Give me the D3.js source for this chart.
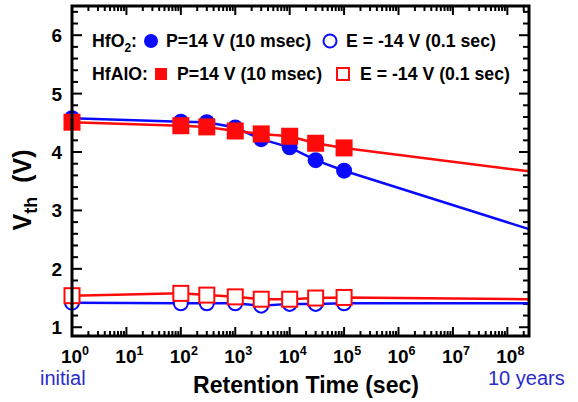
<!DOCTYPE html>
<html>
<head>
<meta charset="utf-8">
<script src="https://cdn.jsdelivr.net/npm/d3@7"></script>
<style>
  body { margin: 0; background: #fff; }
  text { font-family: Arial, "Liberation Sans", sans-serif; }
</style>
</head>
<body>
<div id="chart"></div>
<script>
// retention times (sec)
const times = [1, 100, 300, 1000, 3000, 10000, 30000, 100000];
// Vth after program / erase (V)
const hfo2Prog = [4.58, 4.52, 4.51, 4.42, 4.22, 4.08, 3.86, 3.68];
const hfo2Erase = [1.42, 1.41, 1.41, 1.41, 1.37, 1.40, 1.40, 1.41];
const hfaloProg = [4.51, 4.45, 4.43, 4.36, 4.31, 4.27, 4.15, 4.07];
const hfaloErase = [1.54, 1.58, 1.55, 1.52, 1.48, 1.48, 1.50, 1.51];
// extrapolated values at the right edge (10 years)
const tEnd = 2.5e8;
const endValues = { hfo2Prog: 2.68, hfo2Erase: 1.41, hfaloProg: 3.67, hfaloErase: 1.48 };
const yTicks = [1, 2, 3, 4, 5, 6];
const xDecades = [0, 1, 2, 3, 4, 5, 6, 7, 8];

const width = 578, height = 402;
const plotL = 72, plotR = 529, plotT = 6, plotB = 336;
const blue = '#0a0aff', red = '#ff0a0a';

const svg = d3.select('#chart').append('svg')
  .attr('width', width)
  .attr('height', height);

const x = d3.scaleLog().domain([1, tEnd]).range([plotL, plotR]);
const y = d3.scaleLinear().domain([0.85, 6.5]).range([plotB, plotT]);

// minor / major ticks
const xMinor = [];
xDecades.forEach(d => {
  for (let k = 2; k <= 9; k++) {
    const v = k * Math.pow(10, d);
    if (v < tEnd) xMinor.push(v);
  }
});
const xMajor = xDecades.map(d => Math.pow(10, d));
const yMinor = d3.range(1, 6.5, 0.2).filter(v => Math.abs(v - Math.round(v)) > 0.01);

const tickG = svg.append('g').attr('stroke', 'black').attr('stroke-width', 2);
xMajor.forEach(v => {
  tickG.append('line').attr('x1', x(v)).attr('x2', x(v)).attr('y1', plotB).attr('y2', plotB - 9);
  tickG.append('line').attr('x1', x(v)).attr('x2', x(v)).attr('y1', plotT).attr('y2', plotT + 9);
});
xMinor.forEach(v => {
  tickG.append('line').attr('x1', x(v)).attr('x2', x(v)).attr('y1', plotB).attr('y2', plotB - 5);
  tickG.append('line').attr('x1', x(v)).attr('x2', x(v)).attr('y1', plotT).attr('y2', plotT + 5);
});
yTicks.forEach(v => {
  tickG.append('line').attr('x1', plotL).attr('x2', plotL + 10).attr('y1', y(v)).attr('y2', y(v));
  tickG.append('line').attr('x1', plotR).attr('x2', plotR - 10).attr('y1', y(v)).attr('y2', y(v));
});
yMinor.forEach(v => {
  tickG.append('line').attr('x1', plotL).attr('x2', plotL + 6).attr('y1', y(v)).attr('y2', y(v));
  tickG.append('line').attr('x1', plotR).attr('x2', plotR - 6).attr('y1', y(v)).attr('y2', y(v));
});

// lines
const line = d3.line().x(d => x(d[0])).y(d => y(d[1]));
function series(vals, endV) {
  return times.map((t, i) => [t, vals[i]]).concat([[tEnd, endV]]);
}
svg.append('path').datum(series(hfo2Prog, endValues.hfo2Prog))
  .attr('d', line).attr('fill', 'none').attr('stroke', blue).attr('stroke-width', 2.5);
svg.append('path').datum(series(hfo2Erase, endValues.hfo2Erase))
  .attr('d', line).attr('fill', 'none').attr('stroke', blue).attr('stroke-width', 2.5);
svg.append('path').datum(series(hfaloProg, endValues.hfaloProg))
  .attr('d', line).attr('fill', 'none').attr('stroke', red).attr('stroke-width', 2.5);
svg.append('path').datum(series(hfaloErase, endValues.hfaloErase))
  .attr('d', line).attr('fill', 'none').attr('stroke', red).attr('stroke-width', 2.5);

// markers
svg.selectAll('.bp').data(times).enter().append('circle')
  .attr('cx', d => x(d)).attr('cy', (d, i) => y(hfo2Prog[i]))
  .attr('r', 8).attr('fill', blue);
svg.selectAll('.be').data(times).enter().append('circle')
  .attr('cx', d => x(d)).attr('cy', (d, i) => y(hfo2Erase[i]))
  .attr('r', 7).attr('fill', 'white').attr('stroke', blue).attr('stroke-width', 2);
const sq = 17;
svg.selectAll('.rp').data(times).enter().append('rect')
  .attr('x', d => x(d) - sq / 2).attr('y', (d, i) => y(hfaloProg[i]) - sq / 2)
  .attr('width', sq).attr('height', sq).attr('fill', red);
svg.selectAll('.re').data(times).enter().append('rect')
  .attr('x', d => x(d) - 7.5).attr('y', (d, i) => y(hfaloErase[i]) - 7.5)
  .attr('width', 15).attr('height', 15).attr('fill', 'white').attr('stroke', red).attr('stroke-width', 2);

// frame
svg.append('rect')
  .attr('x', plotL).attr('y', plotT).attr('width', plotR - plotL).attr('height', plotB - plotT)
  .attr('fill', 'none').attr('stroke', 'black').attr('stroke-width', 3);

// y tick labels
svg.selectAll('.ylab').data(yTicks).enter().append('text')
  .attr('x', 62).attr('y', d => y(d) + 7)
  .attr('text-anchor', 'end')
  .attr('font-size', 19).attr('font-weight', 'bold')
  .text(d => d);

// x tick labels 10^n
xDecades.forEach(d => {
  const t = svg.append('text')
    .attr('x', x(Math.pow(10, d)) + 3).attr('y', 363)
    .attr('text-anchor', 'middle')
    .attr('font-size', 19).attr('font-weight', 'bold');
  t.append('tspan').text('10');
  t.append('tspan').attr('dy', -8).attr('font-size', 12.5).text(d);
});

// axis titles
svg.append('text')
  .attr('x', 306).attr('y', 393)
  .attr('text-anchor', 'middle')
  .attr('font-size', 23).attr('font-weight', 'bold')
  .text('Retention Time (sec)');

const yt = svg.append('text')
  .attr('transform', 'translate(31,190) rotate(-90)')
  .attr('text-anchor', 'middle')
  .attr('font-size', 25).attr('font-weight', 'bold');
yt.append('tspan').text('V');
yt.append('tspan').attr('dy', 6).attr('font-size', 18).text('th');
yt.append('tspan').attr('dy', -6).text('\u00a0 (V)');

svg.append('text').attr('x', 40).attr('y', 385)
  .attr('font-size', 20).attr('fill', '#2a2acc').text('initial');
svg.append('text').attr('x', 488).attr('y', 385)
  .attr('font-size', 20).attr('fill', '#2a2acc').text('10 years');

// legend
const legG = svg.append('g').attr('font-size', 17.7).attr('font-weight', 'bold');
const l1 = legG.append('text').attr('x', 92).attr('y', 47);
l1.append('tspan').text('HfO');
l1.append('tspan').attr('dy', 5).attr('font-size', 12).text('2');
l1.append('tspan').attr('dy', -5).text(':');
legG.append('circle').attr('cx', 151).attr('cy', 41).attr('r', 7).attr('fill', blue);
legG.append('text').attr('x', 166).attr('y', 47).text('P=14 V (10 msec)');
legG.append('circle').attr('cx', 330).attr('cy', 41).attr('r', 6.5)
  .attr('fill', 'none').attr('stroke', blue).attr('stroke-width', 2);
legG.append('text').attr('x', 346).attr('y', 47).text('E = -14 V (0.1 sec)');

legG.append('text').attr('x', 92).attr('y', 80).text('HfAlO:');
legG.append('rect').attr('x', 155).attr('y', 68).attr('width', 12).attr('height', 12).attr('fill', red);
legG.append('text').attr('x', 177).attr('y', 80).text('P=14 V (10 msec)');
legG.append('rect').attr('x', 337).attr('y', 68).attr('width', 12).attr('height', 12)
  .attr('fill', 'none').attr('stroke', red).attr('stroke-width', 2);
legG.append('text').attr('x', 360).attr('y', 80).text('E = -14 V (0.1 sec)');
</script>
</body>
</html>
